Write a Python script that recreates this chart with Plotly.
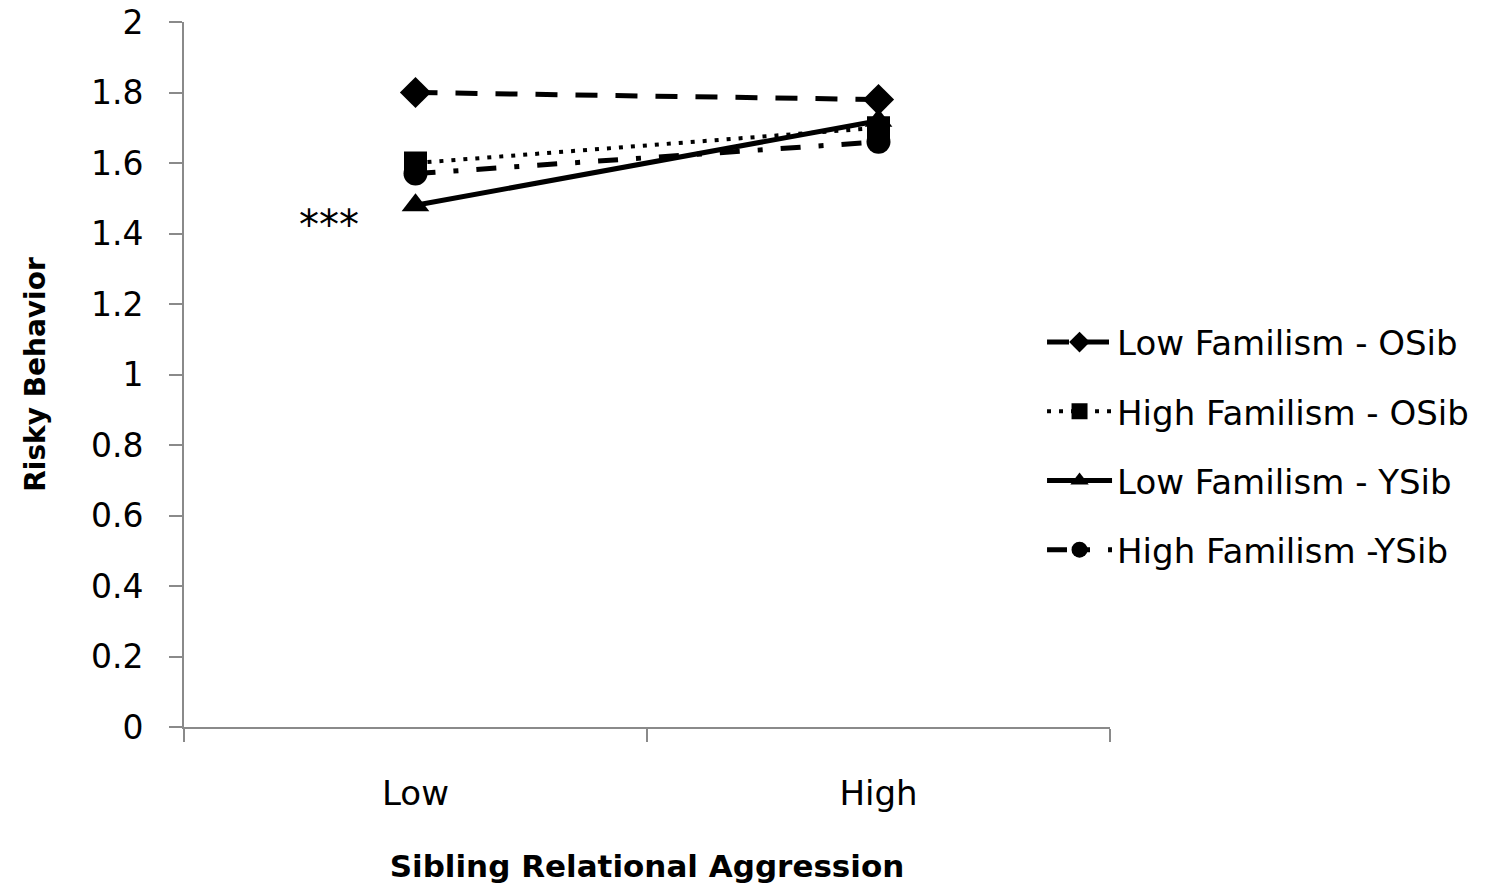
import plotly.graph_objects as go

# Sibling relational aggression levels (x categories)
aggression_levels = ["Low", "High"]

# Mean risky behavior per group
low_fam_osib = [1.80, 1.78]
high_fam_osib = [1.60, 1.70]
low_fam_ysib = [1.48, 1.72]
high_fam_ysib = [1.57, 1.66]

series_names = [
    "Low Familism - OSib",
    "High Familism - OSib",
    "Low Familism - YSib",
    "High Familism -YSib",
]

y_ticks = [0, 0.2, 0.4, 0.6, 0.8, 1, 1.2, 1.4, 1.6, 1.8, 2]
y_tick_text = ["0", "0.2", "0.4", "0.6", "0.8", "1", "1.2", "1.4", "1.6", "1.8", "2"]

AXIS_GRAY = "#8a8a8a"
FONT = "'DejaVu Sans', Verdana, sans-serif"

styles = [
    dict(dash="22px,18px", symbol="diamond", size=24, width=5),
    dict(dash="4px,8px", symbol="square", size=23, width=4),
    dict(dash="solid", symbol="triangle-up", size=24, width=5),
    dict(dash="20px,18px,5px,18px", symbol="circle", size=24, width=5),
]
values = [low_fam_osib, high_fam_osib, low_fam_ysib, high_fam_ysib]

fig = go.Figure()
for i, (name, vals, st) in enumerate(zip(series_names, values, styles)):
    fig.add_trace(go.Scatter(
        x=aggression_levels,
        y=vals,
        name=name,
        legendgroup=f"g{i}",
        mode="lines+markers",
        line=dict(color="black", width=st["width"], dash=st["dash"]),
        marker=dict(symbol=st["symbol"], size=st["size"], color="black"),
    ))

# significance marker next to the low-aggression YSib point
fig.add_annotation(
    x=0, y=1.48, xref="x", yref="y",
    text="***", showarrow=False,
    xshift=-87, yshift=-20,
    font=dict(family=FONT, size=40, color="black"),
)

fig.update_layout(
    width=1487,
    height=887,
    paper_bgcolor="white",
    plot_bgcolor="white",
    margin=dict(l=184, r=377, t=22, b=160),
    showlegend=True,
    legend=dict(
        x=0.9266, xanchor="left", xref="paper",
        y=0.5865, yanchor="top",
        traceorder="grouped",
        tracegroupgap=22,
        itemwidth=65,
        font=dict(family=FONT, size=34, color="black"),
        bgcolor="rgba(0,0,0,0)",
    ),
    xaxis=dict(
        type="category",
        range=[-0.5, 1.5],
        automargin=False,
        showline=True, linecolor=AXIS_GRAY, linewidth=2,
        ticks="outside", ticklen=13, tickcolor=AXIS_GRAY, tickwidth=2,
        tickson="boundaries",
        showgrid=False, zeroline=False,
        tickfont=dict(family=FONT, size=34, color="black"),
        ticklabelstandoff=35,
        title=dict(
            text="<b>Sibling Relational Aggression</b>",
            font=dict(family=FONT, size=31, color="black"),
            standoff=44,
        ),
    ),
    yaxis=dict(
        range=[0, 2],
        automargin=False,
        tickmode="array", tickvals=y_ticks, ticktext=y_tick_text,
        showline=True, linecolor=AXIS_GRAY, linewidth=2,
        ticks="outside", ticklen=13, tickcolor=AXIS_GRAY, tickwidth=2,
        showgrid=False, zeroline=False,
        tickfont=dict(family=FONT, size=33, color="black"),
        ticklabelstandoff=19,
        title=dict(
            text="<b>Risky Behavior</b>",
            font=dict(family=FONT, size=28, color="black"),
            standoff=37,
        ),
    ),
)

fig.write_html("out.html")
